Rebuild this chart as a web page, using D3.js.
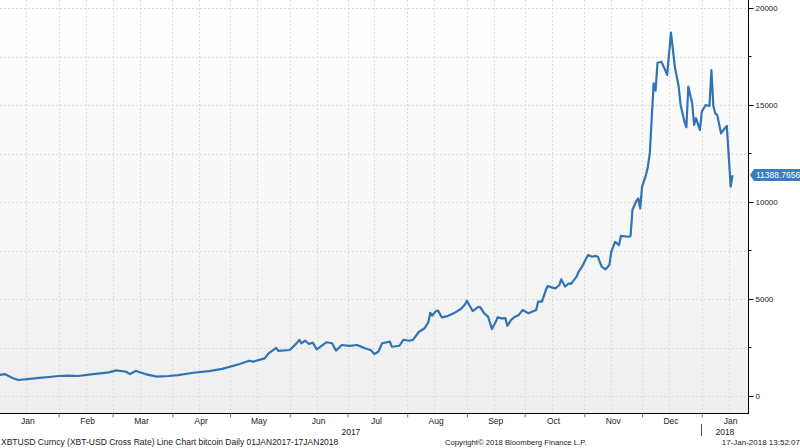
<!DOCTYPE html>
<html>
<head>
<meta charset="utf-8">
<script src="https://cdn.jsdelivr.net/npm/d3@7"></script>
<style>
  html, body { margin: 0; padding: 0; background: #fff; }
  svg { display: block; font-family: "Liberation Sans", Arial, sans-serif; }
  .axis text { font-size: 8px; fill: #222; }
  .label { font-size: 8px; fill: #222; }
</style>
</head>
<body>
<div id="chart"></div>
<script>
const dates = [
  '2017-01-01', '2017-01-04', '2017-01-08', '2017-01-11', '2017-01-17', '2017-01-22', '2017-01-27',
  '2017-02-01', '2017-02-06', '2017-02-11', '2017-02-19', '2017-02-27',
  '2017-03-03', '2017-03-08', '2017-03-10', '2017-03-13', '2017-03-18', '2017-03-24', '2017-03-30',
  '2017-04-04', '2017-04-12', '2017-04-20', '2017-04-27',
  '2017-05-06', '2017-05-11', '2017-05-13', '2017-05-19', '2017-05-21', '2017-05-25', '2017-05-26',
  '2017-06-01', '2017-06-04', '2017-06-06', '2017-06-07', '2017-06-09', '2017-06-11', '2017-06-13',
  '2017-06-15', '2017-06-20', '2017-06-23', '2017-06-25', '2017-06-28',
  '2017-07-02', '2017-07-06', '2017-07-10', '2017-07-13', '2017-07-15', '2017-07-17', '2017-07-19',
  '2017-07-23', '2017-07-24', '2017-07-28', '2017-07-30',
  '2017-08-02', '2017-08-04', '2017-08-07', '2017-08-10', '2017-08-12', '2017-08-13', '2017-08-14',
  '2017-08-16', '2017-08-17', '2017-08-19', '2017-08-22', '2017-08-26', '2017-08-29', '2017-08-31',
  '2017-09-01', '2017-09-04', '2017-09-07', '2017-09-08', '2017-09-10', '2017-09-12', '2017-09-14',
  '2017-09-16', '2017-09-17', '2017-09-19', '2017-09-21', '2017-09-22', '2017-09-24', '2017-09-26',
  '2017-09-28', '2017-09-30',
  '2017-10-03', '2017-10-07', '2017-10-08', '2017-10-10', '2017-10-12', '2017-10-13', '2017-10-15',
  '2017-10-17', '2017-10-19', '2017-10-20', '2017-10-22', '2017-10-24', '2017-10-25', '2017-10-28',
  '2017-10-29', '2017-10-31',
  '2017-11-02', '2017-11-03', '2017-11-05', '2017-11-07', '2017-11-08', '2017-11-10', '2017-11-12',
  '2017-11-14', '2017-11-15', '2017-11-17', '2017-11-19', '2017-11-20', '2017-11-24', '2017-11-25',
  '2017-11-26', '2017-11-28', '2017-11-29', '2017-11-30',
  '2017-12-01', '2017-12-03', '2017-12-04', '2017-12-05', '2017-12-07', '2017-12-08', '2017-12-09',
  '2017-12-11', '2017-12-13', '2017-12-14', '2017-12-16', '2017-12-18', '2017-12-20', '2017-12-21',
  '2017-12-23', '2017-12-24', '2017-12-25', '2017-12-27', '2017-12-28', '2017-12-29', '2017-12-31',
  '2018-01-01', '2018-01-03', '2018-01-05', '2018-01-06', '2018-01-07', '2018-01-08', '2018-01-09',
  '2018-01-11', '2018-01-13', '2018-01-14', '2018-01-16', '2018-01-17'
];

const prices = [
  1080, 1130, 930, 825, 880, 930, 980,
  1030, 1055, 1030, 1130, 1220,
  1320, 1250, 1130, 1290, 1130, 1000, 1030,
  1080, 1200, 1280, 1400,
  1650, 1820, 1770, 1940, 2200, 2480, 2330,
  2370, 2660, 2890, 2720, 2850, 2680, 2750,
  2400, 2770, 2720, 2340, 2630,
  2580, 2630, 2460, 2370, 2165, 2280, 2720,
  2800, 2540, 2590, 2900,
  2850, 2890, 3300, 3490, 3800, 4290, 4150,
  4380, 4400, 4050, 4120, 4310, 4500, 4720,
  4910, 4380, 4600, 4570, 4260, 4090, 3450,
  3830, 4060, 4000, 4010, 3620, 3920, 4090,
  4180, 4430,
  4260, 4430, 4860, 4860, 5460, 5670, 5600,
  5550, 5720, 6010, 5640, 5810, 5770, 6150,
  6400, 6700,
  7100, 7270, 7180, 7220, 7180, 6670, 6530,
  6750, 7440, 7950, 7780, 8250, 8210, 8250,
  9600, 10050, 10190, 9670,
  10790, 11390, 11820, 12510, 16120, 15740, 17180,
  17230, 16800, 16550, 18730, 16980, 15950, 15000,
  14140, 13850, 15950, 15090, 13970, 14320, 13710,
  14660, 15000, 14950, 16800, 14950, 14570, 14490,
  13540, 13800, 13920, 10790, 11388.7656
];

const yTicks = [0, 5000, 10000, 15000, 20000];
const yMinorTicks = [2500, 7500, 12500, 17500];
const monthNames = ['Jan', 'Feb', 'Mar', 'Apr', 'May', 'Jun', 'Jul', 'Aug', 'Sep', 'Oct', 'Nov', 'Dec'];
const years = ['2017', '2018'];
const footerLeft = 'XBTUSD Curncy (XBT-USD Cross Rate) Line Chart bitcoin  Daily 01JAN2017-17JAN2018';
const footerMid = 'Copyright\u00A9 2018 Bloomberg Finance L.P.';
const footerRight = '17-Jan-2018 13:52:07';

const parseDate = d3.timeParse('%Y-%m-%d');

const W = 800;
const H = 448;
const plotRight = 748;
const plotBottom = 413;

const svg = d3.select('#chart').append('svg')
  .attr('width', W)
  .attr('height', H);

const data = dates.map((d, i) => ({date: parseDate(d), value: prices[i]}));

const x = d3.scaleTime()
  .domain([new Date(2017, 0, 1), new Date(2018, 0, 25)])
  .range([-1, plotRight]);
const y = d3.scaleLinear()
  .domain([0, 20000])
  .range([396, 8]);

// background gradient
const grad = svg.append('defs').append('linearGradient')
  .attr('id', 'bg')
  .attr('x1', 0).attr('y1', 0).attr('x2', 0).attr('y2', 1);
grad.append('stop').attr('offset', '0%').attr('stop-color', '#ffffff');
grad.append('stop').attr('offset', '100%').attr('stop-color', '#efefef');

svg.append('rect')
  .attr('x', 0).attr('y', 0)
  .attr('width', plotRight).attr('height', plotBottom)
  .attr('fill', 'url(#bg)');

// grid
const months = d3.timeMonth.range(new Date(2017, 0, 1), new Date(2018, 0, 26));
const gridDates = months.slice(1).concat(months.map(m => d3.timeDay.offset(m, 14)))
  .filter(d => x(d) > 0 && x(d) < plotRight);

const grid = svg.append('g').attr('class', 'grid');
grid.selectAll('.vgrid')
  .data(gridDates)
  .enter().append('line')
  .attr('class', 'vgrid')
  .attr('x1', d => Math.round(x(d)) + 0.5)
  .attr('x2', d => Math.round(x(d)) + 0.5)
  .attr('y1', 0)
  .attr('y2', plotBottom)
  .attr('stroke', '#dcdcdc')
  .attr('stroke-dasharray', '2,2');

grid.selectAll('.hgrid')
  .data(yTicks.concat(yMinorTicks))
  .enter().append('line')
  .attr('class', 'hgrid')
  .attr('x1', 0)
  .attr('x2', plotRight)
  .attr('y1', d => Math.round(y(d)) + 0.5)
  .attr('y2', d => Math.round(y(d)) + 0.5)
  .attr('stroke', '#dcdcdc')
  .attr('stroke-dasharray', '2,2');

// price line
const line = d3.line()
  .x(d => x(d.date))
  .y(d => y(d.value));

svg.append('path')
  .datum(data)
  .attr('fill', 'none')
  .attr('stroke', '#3074b6')
  .attr('stroke-width', 2.2)
  .attr('stroke-linejoin', 'round')
  .attr('d', line);

// right axis
const yAxis = svg.append('g')
  .attr('class', 'axis axis-y')
  .attr('transform', 'translate(' + (plotRight + 0.5) + ',0)')
  .call(d3.axisRight(y).tickValues(yTicks).tickFormat(d3.format('d')).tickSize(5).tickPadding(2));
yAxis.select('.domain').attr('d', 'M0,0V' + plotBottom).attr('stroke', '#000');
yAxis.selectAll('.tick line').attr('stroke', '#000');

svg.append('g')
  .attr('transform', 'translate(' + (plotRight + 0.5) + ',0)')
  .selectAll('line')
  .data(yMinorTicks)
  .enter().append('line')
  .attr('x1', 0).attr('x2', 3)
  .attr('y1', d => y(d)).attr('y2', d => y(d))
  .attr('stroke', '#000');

// bottom axis
const xAxis = svg.append('g')
  .attr('class', 'axis axis-x')
  .attr('transform', 'translate(0,' + (plotBottom + 0.5) + ')')
  .call(d3.axisBottom(x).tickValues(months.slice(1)).tickSize(4).tickFormat(''));
xAxis.select('.domain').attr('d', 'M0,0H' + (plotRight + 1)).attr('stroke', '#000');
xAxis.selectAll('.tick line').attr('stroke', '#777');

svg.append('g')
  .selectAll('text')
  .data(months)
  .enter().append('text')
  .attr('class', 'label')
  .attr('x', d => x(d3.timeDay.offset(d, 15)))
  .attr('y', 424)
  .attr('text-anchor', 'middle')
  .style('font-size', '8.5px')
  .text(d => monthNames[d.getMonth()]);

const yearStart = new Date(2018, 0, 1);
svg.append('text')
  .attr('class', 'label')
  .attr('x', (0 + x(yearStart)) / 2)
  .attr('y', 435)
  .attr('text-anchor', 'middle')
  .style('font-size', '8.5px')
  .text(years[0]);
svg.append('text')
  .attr('class', 'label')
  .attr('x', (x(yearStart) + plotRight) / 2)
  .attr('y', 435)
  .attr('text-anchor', 'middle')
  .style('font-size', '8.5px')
  .text(years[1]);
svg.append('line')
  .attr('x1', Math.round(x(yearStart)) - 0.5)
  .attr('x2', Math.round(x(yearStart)) - 0.5)
  .attr('y1', 424).attr('y2', 436)
  .attr('stroke', '#555');

// last value tag
const last = data[data.length - 1];
const tagY = y(last.value);
const tag = svg.append('g').attr('transform', 'translate(' + (plotRight + 2) + ',' + tagY + ')');
tag.append('path')
  .attr('d', 'M0,0 L4,-6 H60 V6 H4 Z')
  .attr('fill', '#3a7cc4');
tag.append('text')
  .attr('x', 6)
  .attr('y', 3)
  .attr('fill', '#fff')
  .style('font-size', '8.5px')
  .text(d3.format('.4f')(last.value));

// footer
svg.append('text').attr('class', 'label').attr('x', 1).attr('y', 445)
  .style('font-size', '8.5px').text(footerLeft);
svg.append('text').attr('class', 'label').attr('x', 445).attr('y', 445)
  .style('font-size', '7.7px').text(footerMid);
svg.append('text').attr('class', 'label').attr('x', 800).attr('y', 445)
  .attr('text-anchor', 'end').text(footerRight);
</script>
</body>
</html>
